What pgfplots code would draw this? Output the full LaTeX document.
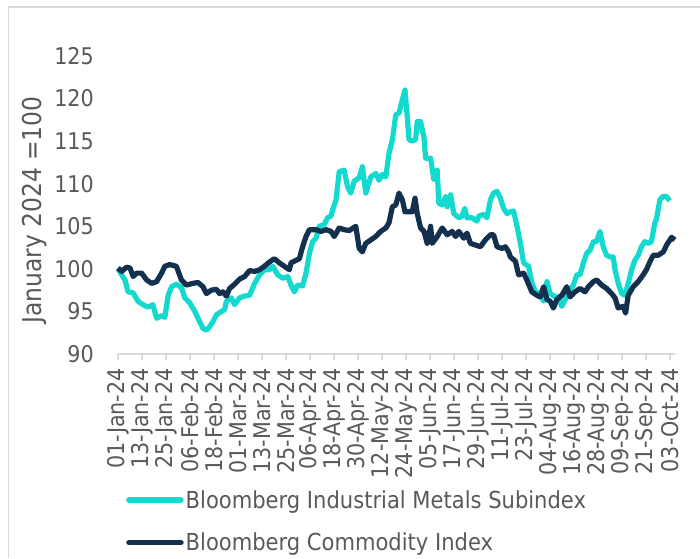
\documentclass[border=0pt]{standalone}
\usepackage{pgfplots}
\pgfplotsset{compat=1.18}
\usepackage{fontspec}
\setmainfont{DejaVu Sans}[FakeStretch=0.9]
\definecolor{metal}{HTML}{14D9CF}
\definecolor{navy}{HTML}{14304F}
\definecolor{txt}{HTML}{595959}
\definecolor{axg}{HTML}{D9D9D9}
\begin{document}
\begin{tikzpicture}[x=1pt,y=1pt]
\useasboundingbox (0,0) rectangle (700,558);
\draw[axg, line width=1.2pt] (8.5,0) -- (8.5,551) -- (700,551);
\begin{axis}[
  at={(118pt,204pt)}, anchor=south west,
  scale only axis, width=557pt, height=298pt,
  xmin=0, xmax=278.5, ymin=90, ymax=125,
  axis x line*=bottom, axis y line*=left,
  x axis line style={draw=axg, line width=1.5pt, -},
  y axis line style={draw=none},
  xtick={0,12,...,276},
  xticklabels={01-Jan-24,13-Jan-24,25-Jan-24,06-Feb-24,18-Feb-24,01-Mar-24,13-Mar-24,25-Mar-24,06-Apr-24,18-Apr-24,30-Apr-24,12-May-24,24-May-24,05-Jun-24,17-Jun-24,29-Jun-24,11-Jul-24,23-Jul-24,04-Aug-24,16-Aug-24,28-Aug-24,09-Sep-24,21-Sep-24,03-Oct-24},
  ytick={90,95,...,125},
  tick align=outside,
  major tick length=6pt,
  xtick style={draw=axg, line width=1.2pt},
  ytick style={draw=none},
  /pgf/number format/assume math mode=true,
  ticklabel style={font=\fontsize{23}{23}\selectfont, text=txt},
  xticklabel style={rotate=90, anchor=east, inner sep=0pt},
  yticklabel style={anchor=east, inner sep=0pt},
  xticklabel shift=8pt,
  yticklabel shift=18pt,
  ylabel={January 2024 =100},
  ylabel style={at={(axis description cs:-0.150,0.483)}, anchor=center, font=\fontsize{26}{26}\selectfont, text=txt},
  legend style={at={(axis description cs:0.0144,-0.451)}, anchor=north west, draw=none, fill=none,
    font=\fontsize{23.4}{23.4}\selectfont, text=txt, row sep=19pt, inner sep=0pt},
  legend cell align=left,
  legend image code/.code={\draw[#1, line width=5.5pt, line cap=round] (0pt,0pt) -- (52pt,0pt);},
  clip=false,
]
\addplot[metal, line width=5.2pt, line join=round] coordinates {
(0,100.0)(3.5,98.7)(5,97.3)(7.5,97.2)(10,96.2)(12.5,95.8)(14.9,95.5)(17.4,95.8)(19.3,94.2)(21.8,94.5)(23.4,94.3)(25.1,96.9)(26.8,97.9)(29.2,98.2)(31.7,97.8)(33.4,96.6)(35.9,96.0)(38.4,95.0)(40,94.2)(42.5,93.0)(44.2,92.8)(45.8,93.2)(47.5,93.8)(49.2,94.6)(51.7,95.0)(53.3,95.2)(54.2,96.2)(56.7,96.6)(58.3,95.8)(60.8,96.6)(63.3,96.8)(65.8,96.9)(68.3,98.3)(70.8,99.3)(73.2,99.9)(75.7,99.9)(77.4,100.3)(79.9,99.3)(82.4,98.9)(84.9,99.1)(86.5,98.1)(88.2,97.3)(89.8,98.1)(92.3,98.0)(94,99.5)(95.7,101.8)(97.3,103.2)(99,103.6)(100.6,105.0)(103.1,105.2)(104.8,106.0)(106.5,106.2)(107.3,106.9)(109,108.1)(110.6,111.4)(113.1,111.6)(114.7,109.7)(116.4,108.9)(118.1,110.3)(120.6,110.7)(122.2,112.0)(123.9,108.9)(126.4,110.8)(128.9,111.2)(130.5,110.4)(132.2,111.1)(133.9,110.8)(135.5,113.6)(137.2,115.2)(138.9,118.1)(140.5,118.3)(142.2,119.9)(143.5,121.0)(144.6,117.9)(145.5,115.2)(147.1,115.0)(148.8,115.2)(149.6,117.3)(151.3,117.3)(153,115.4)(153.8,113.0)(156.3,113.0)(157.9,110.5)(159.6,111.6)(160.4,107.7)(162.1,107.5)(163.8,108.5)(164.6,107.3)(166.3,108.7)(167.9,106.5)(170.4,106.0)(172,106.2)(173.4,107.1)(174.5,106.0)(177,106.0)(179.5,105.6)(180.4,106.2)(182.9,106.4)(184.5,106.0)(186.2,108.1)(187.8,108.9)(189.5,109.1)(191.2,108.3)(192.8,107.1)(194.5,106.5)(196.2,106.7)(197.8,106.8)(199.5,105.0)(201.2,103.0)(202.8,100.7)(205.3,100.3)(207,98.3)(208.7,97.3)(211.1,97.1)(212.8,96.2)(214.5,98.5)(216.1,97.1)(218.6,96.7)(220.2,96.7)(221.9,95.6)(223.6,96.4)(225.2,97.3)(227.7,98.1)(229.4,99.3)(231,99.3)(232.7,100.7)(234.3,101.8)(236,102.2)(237.7,103.2)(239.3,103.2)(241,104.4)(242.6,102.6)(244.3,101.6)(246,101.4)(247.6,101.4)(248.5,99.9)(250.1,98.3)(251.8,97.1)(253.5,96.9)(255.1,98.3)(256.8,99.9)(258.4,101.0)(260.1,101.6)(261.7,102.6)(263.4,103.2)(265.1,103.0)(266.7,103.2)(268.4,105.4)(269.2,105.8)(270.9,108.1)(272.5,108.5)(274.2,108.5)(275.9,108.0)
};
\addlegendentry{Bloomberg Industrial Metals Subindex}
\addplot[navy, line width=5.2pt, line join=round] coordinates {
(0,100.1)(1.8,99.7)(4.3,100.2)(6,100.1)(7.6,99.1)(9.3,99.5)(11.8,99.5)(14.3,98.7)(16.8,98.3)(19.3,98.5)(21.8,99.5)(23.4,100.3)(25.9,100.5)(29.2,100.3)(31.7,98.7)(34.2,98.1)(37.5,98.3)(40,98.4)(42.5,97.9)(44.2,97.1)(46.7,97.5)(49.2,97.6)(50.8,97.1)(52.5,97.3)(54.2,96.8)(55.8,97.7)(58.3,98.2)(60.8,98.8)(63.3,99.1)(65.8,99.8)(68.3,99.7)(70.8,99.9)(73.2,100.3)(75.7,100.8)(78.2,101.2)(80.7,100.7)(83.2,100.3)(85.7,99.9)(86.5,100.7)(89,101.0)(90.7,101.2)(92.3,102.6)(94,103.8)(95.7,104.6)(99,104.6)(101.5,104.4)(104,104.6)(106.5,104.4)(108.1,103.8)(110.6,104.8)(113.1,104.6)(115.6,104.5)(118.9,105.0)(120.6,102.4)(122.2,102.0)(123.9,103.0)(126.4,103.4)(128.9,103.8)(130.5,104.2)(131.4,104.4)(133.9,104.8)(135.5,105.4)(137.2,107.3)(138.9,107.5)(140.5,108.9)(142.2,108.1)(143.5,106.7)(145.5,106.7)(147.1,106.7)(148.5,108.3)(149.6,106.5)(151.3,104.8)(153,104.4)(154.6,103.0)(156.3,105.0)(157.1,103.0)(159.6,103.8)(162.1,104.8)(164.6,104.0)(167.1,104.4)(168.8,103.8)(170.4,104.4)(172.9,103.6)(174.5,104.2)(176.2,103.0)(178.7,102.8)(181.2,102.6)(183.7,103.4)(186.2,104.0)(187.8,104.0)(189.5,102.6)(192,102.4)(193.7,102.6)(195.3,102.0)(196.2,101.4)(198.7,100.9)(200.3,99.3)(202.8,99.5)(204.4,98.7)(206.9,97.3)(209.4,96.9)(211.1,96.7)(212.8,97.9)(214.5,96.4)(216.1,96.2)(217.7,95.4)(219.4,96.4)(221.9,96.9)(224.4,97.9)(226,96.7)(228.5,97.3)(231,97.7)(233.5,97.3)(235.2,97.9)(237.7,98.5)(239.3,98.7)(241.8,98.1)(244.3,97.7)(246.8,97.1)(248.5,96.6)(250.1,95.4)(252.6,95.6)(253.8,94.8)(255.1,96.9)(257.6,97.9)(260.1,98.5)(262.6,99.3)(264.2,99.9)(265.9,100.8)(267.6,101.6)(270.1,101.6)(272.7,102.0)(274.3,102.8)(276.8,103.7)(278.4,103.4)
};
\addlegendentry{Bloomberg Commodity Index}
\end{axis}
\end{tikzpicture}
\end{document}
